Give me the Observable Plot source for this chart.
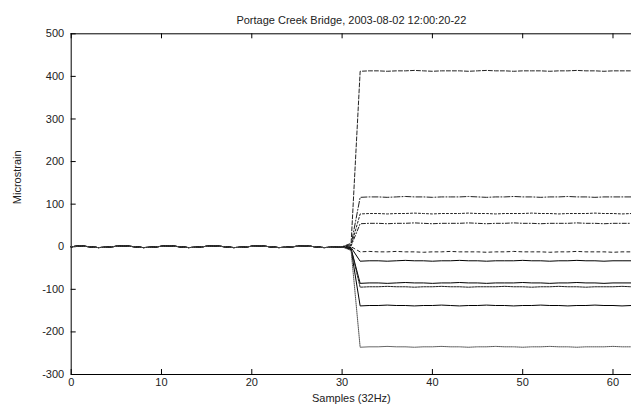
<!DOCTYPE html>
<html>
<head>
<meta charset="utf-8">
<script src="https://cdn.jsdelivr.net/npm/d3@7"></script>
<script src="https://cdn.jsdelivr.net/npm/@observablehq/plot@0.6"></script>
<style>
  html, body { margin: 0; padding: 0; background: #fff; }
  #chart svg { display: block; }
</style>
</head>
<body>
<div id="chart"></div>
<script>
const titleText = "Portage Creek Bridge, 2003-08-02 12:00:20-22";
const xLabel = "Samples (32Hz)";
const yLabel = "Microstrain";
const xTicks = [0, 10, 20, 30, 40, 50, 60];
const yTicks = [-300, -200, -100, 0, 100, 200, 300, 400, 500];

// samples 0..30 (all gauges overlap near zero before the event)
const preEvent = [0, 2, 0, -2, -1, 1, 2, 0, -2, -1, 1, 2, 0, -2, -1, 1, 2, 0, -2, -1, 1, 2, 0, -2, -1, 1, 2, 0, -2, -1, 0];

const seriesNames = ["g1", "g2", "g3", "g4", "g5", "g6", "g7", "g8", "g9", "g10"];
// value at sample 31
const atSample31 = [8, 5, 3, 2, 0, -2, -5, -5, -7, -9];
// samples 32..62
const g1 = [412,413,413,412,413,413,414,413,412,413, 413,413,412,413,414,413,413,412,413,413, 413,412,413,413,414,413,413,412,413,413, 413];
const g2 = [116,117,117,116,117,118,117,117,116,117, 117,117,118,117,116,117,117,118,117,117, 116,117,117,118,117,117,116,117,117,117, 117];
const g3 = [77,78,78,77,78,78,79,78,77,78, 78,78,79,78,78,77,78,78,78,79, 78,78,77,78,78,78,79,78,78,77, 78];
const g4 = [54,55,55,54,55,55,56,55,54,55, 55,55,56,55,54,55,55,56,55,55, 54,55,55,55,56,55,55,54,55,55, 55];
const g5 = [-12,-11,-12,-12,-11,-12,-12,-13,-12,-12, -11,-12,-12,-12,-13,-12,-12,-11,-12,-12, -12,-13,-12,-12,-11,-12,-12,-12,-13,-12, -12];
const g6 = [-34,-33,-33,-34,-33,-32,-33,-33,-34,-33, -33,-32,-33,-33,-34,-33,-33,-33,-32,-33, -33,-34,-33,-33,-32,-33,-33,-34,-33,-33, -33];
const g7 = [-86,-85,-85,-86,-85,-84,-85,-85,-86,-85, -85,-84,-85,-85,-86,-85,-85,-85,-84,-85, -85,-86,-85,-85,-84,-85,-85,-86,-85,-85, -85];
const g8 = [-95,-94,-94,-93,-94,-94,-95,-94,-94,-93, -94,-94,-95,-94,-94,-94,-93,-94,-94,-95, -94,-94,-93,-94,-94,-95,-94,-94,-94,-93, -94];
const g9 = [-139,-138,-138,-137,-138,-138,-139,-138,-138,-137, -138,-139,-138,-138,-137,-138,-138,-139,-138,-138, -137,-138,-138,-139,-138,-138,-137,-138,-138,-139, -138];
const g10 = [-236,-235,-235,-234,-235,-235,-236,-235,-235,-234, -235,-235,-236,-235,-235,-234,-235,-235,-236,-235, -235,-234,-235,-235,-236,-235,-235,-235,-234,-235, -235];
const postEvent = [g1, g2, g3, g4, g5, g6, g7, g8, g9, g10];

// styles per series
const dashes = ["4,2", "6,2,1,2", "2,2", "4,2,1,2", "3,3", null, null, "2,1", null, "1,1"];
const colors = ["#222", "#222", "#222", "#222", "#222", "#000", "#000", "#222", "#000", "#555"];

const seriesData = seriesNames.map((name, i) => {
  const vals = preEvent.concat([atSample31[i]], postEvent[i]);
  return vals.map((v, k) => ({series: name, sample: k, value: v}));
});

const W = 631, H = 411;
const mL = 70.7, mR = 0, mT = 33.3, mB = 37;
const plotW = W - mL - mR, plotH = H - mT - mB;
const font = "'Liberation Sans', Arial, Helvetica, sans-serif";

const lineMarks = seriesData.map((d, i) => Plot.line(d, {
  x: "sample", y: "value",
  stroke: colors[i], strokeWidth: 1,
  strokeDasharray: dashes[i] || undefined
}));

const chart = Plot.plot({
  width: W, height: H,
  marginLeft: mL, marginRight: mR, marginTop: mT, marginBottom: mB,
  style: {fontFamily: font, fontSize: "11px", color: "#222", background: "#fff"},
  x: {domain: [0, 62.05], axis: null},
  y: {domain: [-300, 500], axis: null},
  marks: [
    // frame: left, top, bottom
    Plot.ruleX([0], {stroke: "#000", strokeWidth: 1}),
    Plot.ruleY([-300, 500], {stroke: "#000", strokeWidth: 1}),
    // inward ticks
    Plot.tickX(xTicks, {x: d => d, insetTop: plotH - 5, stroke: "#000"}),
    Plot.tickX(xTicks, {x: d => d, insetBottom: plotH - 5, stroke: "#000"}),
    Plot.tickY(yTicks, {y: d => d, insetRight: plotW - 5, stroke: "#000"}),
    // tick labels
    Plot.text(xTicks, {x: d => d, frameAnchor: "bottom", dy: 11, text: d => String(d), fontSize: 11, fill: "#222"}),
    Plot.text(yTicks, {y: d => d, frameAnchor: "left", dx: -7, textAnchor: "end", text: d => String(d), fontSize: 11, fill: "#222"}),
    ...lineMarks,
    // titles
    Plot.text([titleText], {frameAnchor: "top", dy: -18, text: d => d, fontSize: 11, fill: "#222"}),
    Plot.text([xLabel], {frameAnchor: "bottom", dy: 27, text: d => d, fontSize: 11, fill: "#222"}),
    Plot.text([yLabel], {frameAnchor: "left", dx: -54, rotate: -90, text: d => d, fontSize: 11, fill: "#222"})
  ]
});
document.getElementById("chart").appendChild(chart);
</script>
</body>
</html>
